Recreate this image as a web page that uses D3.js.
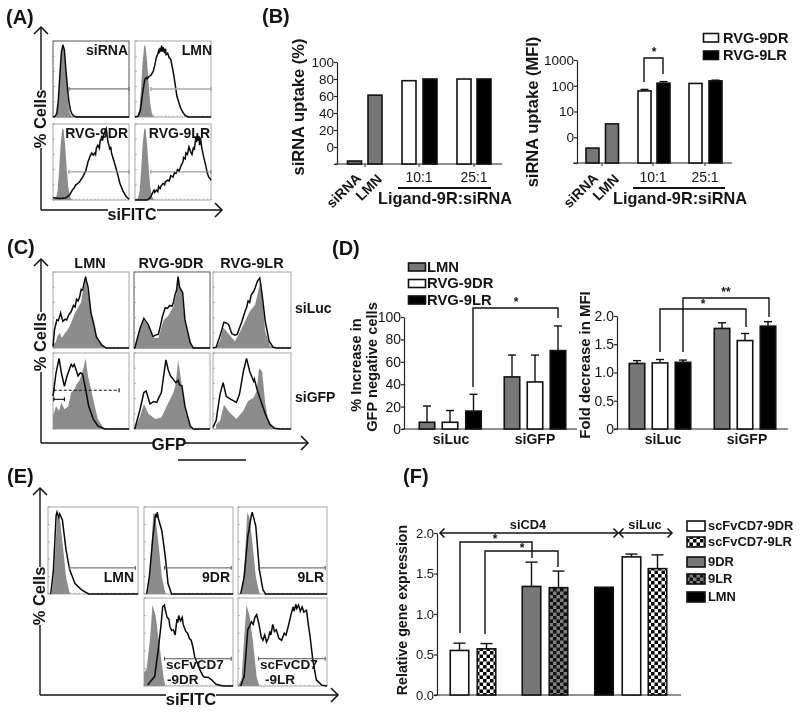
<!DOCTYPE html>
<html><head><meta charset="utf-8">
<script src="https://cdn.jsdelivr.net/npm/d3@7/dist/d3.min.js"></script>
<style>html,body{margin:0;padding:0;background:#fff}svg{display:block;filter:blur(0.4px)}text{font-family:"Liberation Sans",Arial,sans-serif;fill:#141414}</style>
</head><body><svg id="c" width="800" height="712"></svg>
<script>
// ---------- DATA: flow histograms, [channel %, cell count %] ----------
const grayA=[[0,0],[2,1],[4,3],[6,12],[8,38],[10,72],[12,92],[13,95],[14,92],[16,72],[18,42],[20,18],[22,6],[24,1],[26,0],[100,0]];
const lineA1=[[0,0],[3,1],[5,5],[7,22],[9,55],[11,85],[13,95],[15,88],[17,62],[19,38],[21,20],[23,9],[25,4],[28,1],[32,0],[100,0]];
const lineA2=[[0,0],[4,1],[7,8],[10,31],[13,50],[15,52],[16,50],[18,53],[21,55],[24,60],[26,68],[28,78],[30,83],[31,87],[32,84],[33,91],[34,86],[35,94],[36,86],[37,92],[39,84],[40,90],[41,82],[43,84],[45,78],[47,76],[49,66],[51,55],[53,42],[55,28],[58,18],[60,12],[63,6],[66,2],[70,0],[100,0]];
const lineA3=[[0,3],[10,2],[17,3],[22,7],[26,14],[28,16],[30,20],[33,22],[35,24],[39,30],[43,38],[46,50],[49,58],[51,62],[53,59],[55,62],[56,60],[57,68],[59,72],[61,68],[62,78],[64,82],[65,78],[67,86],[69,92],[70,94],[71,86],[72,78],[73,74],[75,66],[76,70],[77,62],[79,55],[82,45],[85,34],[88,22],[92,12],[96,5],[100,1]];
const lineA4=[[0,0],[16,0],[20,3],[23,9],[25,13],[26,10],[28,13],[30,11],[31,18],[33,15],[34,18],[37,22],[39,20],[40,24],[43,26],[45,25],[47,32],[50,30],[52,36],[54,35],[56,40],[58,38],[61,46],[63,50],[64,56],[66,54],[67,62],[69,60],[71,70],[73,64],[75,60],[77,70],[78,66],[80,82],[81,76],[82,88],[83,78],[84,84],[85,72],[86,82],[88,68],[90,58],[93,46],[95,36],[97,30],[99,28],[100,26]];
const grayC1=[[0,11],[2,6],[4,9],[6,16],[9,20],[11,14],[13,15],[16,20],[18,22],[22,29],[25,36],[28,44],[31,50],[35,57],[37,60],[39,73],[41,80],[43,90],[46,73],[50,46],[55,24],[59,11],[66,2],[70,0],[100,0]];
const lineC1=[[0,2],[2,24],[5,37],[7,36],[9,42],[10,46],[13,35],[16,38],[18,37],[21,44],[24,48],[27,56],[29,54],[31,64],[33,62],[35,67],[37,77],[39,76],[41,86],[43,94],[44,88],[46,81],[50,46],[54,30],[57,15],[64,4],[70,0],[100,0]];
const grayC2=[[0,0],[1,0],[8,24],[13,37],[19,28],[25,13],[32,13],[39,37],[45,42],[52,55],[56,72],[58,90],[60,80],[63,73],[67,33],[74,7],[78,0],[100,0]];
const lineC2=[[0,0],[1,0],[8,26],[13,39],[19,30],[25,15],[28,17],[32,18],[35,30],[37,40],[41,53],[44,52],[47,56],[50,55],[52,60],[54,70],[56,76],[58,94],[60,80],[64,73],[67,37],[74,7],[78,0],[100,0]];
const grayC3=[[0,0],[4,0],[9,10],[13,27],[19,20],[28,9],[34,20],[41,35],[47,48],[54,57],[57,70],[60,85],[63,66],[67,22],[73,3],[77,0],[100,0]];
const lineC3=[[0,0],[4,1],[9,16],[14,34],[17,33],[20,31],[24,19],[28,17],[31,18],[37,35],[41,48],[43,53],[45,62],[47,60],[49,70],[52,74],[54,79],[57,88],[60,92],[63,70],[67,35],[72,9],[77,1],[82,0],[100,0]];
const grayC4=[[0,17],[4,30],[8,24],[11,35],[15,26],[20,30],[24,48],[28,52],[31,59],[35,64],[37,70],[40,80],[43,93],[46,70],[51,48],[55,30],[59,13],[66,2],[70,0],[100,0]];
const lineC4=[[0,43],[4,74],[8,93],[11,74],[15,56],[18,68],[20,74],[22,80],[24,85],[26,82],[28,85],[31,76],[33,70],[36,74],[39,72],[43,52],[47,30],[53,13],[59,4],[68,0],[100,0]];
const grayC5=[[1,0],[8,17],[13,33],[19,20],[28,13],[36,15],[43,30],[52,48],[55,60],[58,91],[63,57],[67,30],[74,4],[78,0],[100,0]];
const lineC5=[[1,0],[8,26],[13,48],[16,50],[21,33],[26,36],[30,35],[33,42],[36,48],[39,70],[42,91],[45,78],[48,70],[52,65],[55,61],[58,64],[60,58],[63,57],[67,30],[74,4],[78,0],[100,0]];
const grayC6=[[4,6],[9,11],[14,32],[21,22],[30,13],[39,24],[45,37],[52,41],[56,50],[59,80],[63,76],[67,33],[71,11],[77,2],[82,0],[100,0]];
const lineC6=[[0,2],[4,11],[9,46],[13,61],[17,43],[20,41],[23,39],[30,35],[34,46],[39,76],[43,93],[47,76],[50,68],[52,63],[53,66],[56,54],[60,41],[67,20],[73,6],[79,1],[86,0],[100,0]];
const grayE=[[4,0],[7,30],[9,66],[10.5,94],[13,88],[17,51],[20,20],[24,1],[25,0],[100,0]];
const lineE1=[[3,0],[6,27],[9,90],[10,94],[12,88],[13,92],[16,85],[20,51],[24,28],[30,12],[37,5],[45,0],[100,0]];
const lineE2=[[3,0],[6,20],[10,66],[13,92],[14,88],[15,94],[16,87],[20,73],[24,42],[27,12],[31,0],[100,0]];
const lineE3=[[3,0],[7,20],[11,66],[15,90],[16,94],[18,86],[20,78],[24,28],[28,5],[31,0],[100,0]];
const grayE4=[[0,15],[3,20],[7,56],[9.5,92],[13,80],[17,49],[22,10],[24,0],[100,0]];
const lineE4=[[4,1],[12,11],[16,41],[19,68],[21,90],[23,92],[24,86],[26,78],[28,76],[29,68],[31,63],[33,64],[35,58],[37,76],[38,72],[39,80],[41,74],[43,78],[44,70],[47,62],[49,60],[51,54],[53,52],[55,44],[57,33],[60,26],[63,18],[66,12],[68,10],[72,10],[76,7],[81,2],[89,0],[100,0]];
const grayE5=[[0,0],[4,8],[7,56],[9.5,92],[13,80],[17,49],[21,10],[24,0],[100,0]];
const lineE5=[[3,0],[7,11],[11,64],[13,68],[15,73],[17,70],[19,78],[21,81],[24,68],[26,56],[28,52],[30,58],[32,50],[34,54],[36,62],[37,58],[39,70],[41,62],[43,64],[46,54],[49,52],[52,60],[54,58],[57,70],[60,83],[62,90],[63,85],[65,93],[66,88],[68,92],[70,85],[72,90],[74,84],[77,86],[79,70],[81,56],[84,30],[88,7],[94,1],[100,0]];
// gate bars: start, end, height
const gateA=[21,100,37], gateE=[23,98,30], gateE1=[24,97,30], gateEb=[23,98,31];
const gateDash=[1,87,51], gateShort=[1,15,39];
// ---------- DATA: bar charts ----------
const catsB=["siRNA","LMN","10:1 DR","10:1 LR","25:1 DR","25:1 LR"];
const valsB1=[-16.5,61,78,80,80,80];
const valsB2=[0.38,3.3,63,126,123,155];
const errsB2=[0.38,3.3,72,145,123,165];
const ticksB1=[-20,0,20,40,60,80,100];
const ticksB2=[0.1,1,10,100,1000];
const labelsB2=["","0","10","100","1000"];
const catsD=["L LMN","L DR","L LR","G LMN","G DR","G LR"];
const valsD1=[6,6,16,46.5,42,70];
const errsD1=[20.5,16.5,31,66,66,92];
const valsD2=[1.16,1.17,1.18,1.78,1.565,1.82];
const errsD2=[1.21,1.23,1.22,1.88,1.69,1.90];
const ticksD1=[0,20,40,60,80,100];
const ticksD2=[0,0.5,1,1.5,2];
const labelsD2=["0","0.5","1.0","1.5","2.0"];
const catsF=["scFvCD7-9DR","scFvCD7-9LR","9DR","9LR","LMN","siLuc 9DR","siLuc 9LR"];
const valsF=[0.55,0.57,1.34,1.325,1.33,1.705,1.56];
const errsF=[0.64,0.635,1.64,1.53,1.33,1.74,1.73];
const ticksF=[0,0.5,1,1.5,2];
const legendB=["RVG-9DR","RVG-9LR"];
const legendD=["LMN","RVG-9DR","RVG-9LR"];
const legendF=["scFvCD7-9DR","scFvCD7-9LR","9DR","9LR","LMN"];

// ---------- helpers ----------
const svg=d3.select("#c");
const GR="#777777",HG="#8c8c8c",INK="#111";
const defs=svg.append("defs");
function checker(id,a,b){const p=defs.append("pattern").attr("id",id).attr("width",7).attr("height",7).attr("patternUnits","userSpaceOnUse");
 p.append("rect").attr("width",7).attr("height",7).attr("fill",a);
 p.append("rect").attr("width",3.5).attr("height",3.5).attr("fill",b);
 p.append("rect").attr("x",3.5).attr("y",3.5).attr("width",3.5).attr("height",3.5).attr("fill",b);}
checker("chkW","#fff","#000");checker("chkD","#808080","#111");
const W="#fff",K="#000",CW="url(#chkW)",CD="url(#chkD)";
function txt(x,y,s,o={}){const t=svg.append("text").attr("x",x).attr("y",y).text(s)
 .attr("font-size",o.size||14).attr("font-weight",o.weight||"bold").attr("text-anchor",o.anchor||"start");
 if(o.rot!=null)t.attr("transform",`rotate(${o.rot} ${x} ${y})`);if(o.fill)t.style("fill",o.fill);return t;}
function poly(pts,w=1.4,c=INK,dash){svg.append("path").attr("d",d3.line()(pts)).attr("fill","none").attr("stroke",c).attr("stroke-width",w).attr("stroke-dasharray",dash||null);}
function arrowHead(x,y,dir,s=7){const d={u:[[-1,1],[0,0],[1,1]],r:[[-1,-1],[0,0],[-1,1]],l:[[1,-1],[0,0],[1,1]]}[dir];
 poly(d.map(p=>[x+p[0]*s,y+p[1]*s]),1.5,INK);}
function panel(x,y,w,h,gray,line,gates,dark){
 const X=d3.scaleLinear([0,100],[x,x+w]),Y=d3.scaleLinear([0,100],[y+h,y]);
 const g=svg.append("g");
 g.append("rect").attr("x",x).attr("y",y).attr("width",w).attr("height",h).attr("fill","#fff").attr("stroke",dark?"#555":"#a8a8a8").attr("stroke-width",1);
 g.append("path").attr("d",d3.area().x(d=>X(d[0])).y0(Y(0)).y1(d=>Y(d[1]))(gray)).attr("fill",HG);
 const tk=X.ticks(20);
 g.selectAll("line.b").data(tk).join("line").attr("x1",X).attr("x2",X).attr("y1",y+h).attr("y2",y+h-1.5).attr("stroke","#999").attr("stroke-width",.6);
 g.selectAll("line.l").data(Y.ticks(4)).join("line").attr("y1",Y).attr("y2",Y).attr("x1",x).attr("x2",x+2).attr("stroke","#888").attr("stroke-width",.6);
 (gates||[]).forEach(gt=>{const yy=Y(gt.v[2]);const c=gt.c||"#888",sw=gt.w||1;
  poly([[X(gt.v[0]),yy],[X(gt.v[1]),yy]],sw,c,gt.dash);
  [gt.v[0],gt.v[1]].forEach(v=>poly([[X(v),yy-2],[X(v),yy+2]],sw,c));});
 g.append("path").attr("d",d3.line().x(d=>X(d[0])).y(d=>Y(d[1]))(line)).attr("fill","none").attr("stroke","#0a0a0a").attr("stroke-width",1.5);
}
function yAxis(x,scale,ticks,labels,size){
 const a=d3.axisLeft(scale).tickValues(ticks).tickSize(3).tickSizeOuter(0).tickFormat((d,i)=>labels?labels[i]:d);
 const g=svg.append("g").attr("transform",`translate(${x},0)`).call(a);
 g.selectAll("path,line").attr("stroke","#222").attr("stroke-width",1.2);
 g.selectAll("text").attr("font-size",size).attr("font-family",'"Liberation Sans"').attr("fill","#333").attr("x",-3);
 return g;}
function baseLine(x1,x2,y,ticks){poly([[x1,y],[x2,y]],1.2,"#222");(ticks||[]).forEach(t=>poly([[t,y],[t,y+3]],1,"#222"));}
function bars(cats,vals,errs,fills,x,y,bw,base,capW){
 const g=svg.append("g");
 const items=cats.map((c,i)=>({c,v:vals[i],e:errs?errs[i]:vals[i],f:fills[i]}));
 g.selectAll("line.e").data(items).join("line").attr("x1",d=>x(d.c)).attr("x2",d=>x(d.c)).attr("y1",d=>y(d.v)).attr("y2",d=>y(d.e)).attr("stroke",INK).attr("stroke-width",1.4);
 g.selectAll("line.c").data(items.filter(d=>d.e!==d.v)).join("line").attr("x1",d=>x(d.c)-capW).attr("x2",d=>x(d.c)+capW).attr("y1",d=>y(d.e)).attr("y2",d=>y(d.e)).attr("stroke",INK).attr("stroke-width",1.4);
 g.selectAll("rect").data(items).join("rect").attr("x",d=>x(d.c)-bw/2).attr("width",bw).attr("y",d=>y(d.v)).attr("height",d=>base-y(d.v)).attr("fill",d=>d.f).attr("stroke",INK).attr("stroke-width",1.6);
}
function legend(names,fills,x,w,h,ys,size,tx,base){
 names.forEach((n,i)=>{svg.append("rect").attr("x",x).attr("y",ys[i]).attr("width",w).attr("height",h).attr("fill",fills[i]).attr("stroke",INK).attr("stroke-width",1.6);
  txt(tx,ys[i]+base,n,{size});});}
function star(x,y,s){txt(x,y+4,s,{size:12,anchor:"middle",weight:"bold"});}
function cellsAxis(x,top,gapT,gapB,bot,right,gapL,gapR,labelX,labelY,xLabel,xLabelX,xLabelY,xSize){
 poly([[x,bot],[x,gapB]]);poly([[x,gapT],[x,top]]);arrowHead(x,top,"u");
 poly([[x,bot],[gapL,bot]]);poly([[gapR,bot],[right,bot]]);arrowHead(right,bot,"r");
 txt(labelX,labelY,"% Cells",{size:16.5,anchor:"middle",rot:-90});
 txt(xLabelX,xLabelY,xLabel,{size:xSize||16,anchor:"middle"});}

// ---------- (A) ----------
txt(6,24,"(A)",{size:20});
cellsAxis(41,27,90,148,210,222,108,157,46,119,"siFITC",132,220);
const aX=[53,135],aY=[41,124];
panel(aX[0],aY[0],76,76,grayA,lineA1,[{v:gateA,c:"#777",w:1.3}],true);
panel(aX[1],aY[0],76,76,grayA,lineA2,[{v:gateA,c:"#aaa",w:1.5}]);
panel(aX[0],aY[1],76,76,grayA,lineA3,[{v:gateA}]);
panel(aX[1],aY[1],76,76,grayA,lineA4,[{v:gateA}]);
txt(128,55,"siRNA",{anchor:"end"});txt(212,55,"LMN",{anchor:"end"});
txt(128,138,"RVG-9DR",{anchor:"end"});txt(210,138,"RVG-9LR",{anchor:"end"});

// ---------- (B) left ----------
txt(262,23,"(B)",{size:20});
const yB1=d3.scaleLinear([-20,100],[164,62]);
const xB1=d3.scaleOrdinal(catsB,[354.5,375,409,430,464,484]);
yAxis(337,yB1,ticksB1,ticksB1.map(d=>d<0?"":d),13.5);
baseLine(335,502,164,[365,419,474]);
bars(catsB,valsB1,null,[GR,GR,W,K,W,K],xB1,yB1,14,164,3);
txt(304,107,"siRNA uptake (%)",{size:16.5,anchor:"middle",rot:-90});
txt(362,179,"siRNA",{anchor:"end",rot:-45});txt(383,180,"LMN",{anchor:"end",rot:-45});
txt(419,182,"10:1",{weight:"normal",anchor:"middle"});txt(474,182,"25:1",{weight:"normal",anchor:"middle"});
poly([[398,188],[491,188]],2,"#111");
txt(445,204,"Ligand-9R:siRNA",{size:16.3,anchor:"middle"});

// ---------- (B) right ----------
const yB2=d3.scaleLog([0.1,1000],[163,60]);
const xB2=d3.scaleOrdinal(catsB,[592.5,612,644.5,663.5,695.5,715.5]);
yAxis(577,yB2,ticksB2,labelsB2,13.5);
baseLine(573,732,163,[602,653,705]);
bars(catsB,valsB2,errsB2,[GR,GR,W,K,W,K],xB2,yB2,13,163,4);
txt(538,112,"siRNA uptake (MFI)",{size:16.5,anchor:"middle",rot:-90});
txt(599,179,"siRNA",{anchor:"end",rot:-45});txt(620,180,"LMN",{anchor:"end",rot:-45});
txt(653,182,"10:1",{weight:"normal",anchor:"middle"});txt(705,182,"25:1",{weight:"normal",anchor:"middle"});
poly([[633,188],[725,188]],2,"#111");
txt(680,204,"Ligand-9R:siRNA",{size:16.3,anchor:"middle"});
poly([[644,82],[644,58],[663,58],[663,74]]);star(654,52,"*");
legend(legendB,[W,K],703.5,15,8.5,[33.5,51],14.6,723,9);

// ---------- (C) ----------
txt(7,254,"(C)",{size:20});
cellsAxis(41,259,312,372,443,308,153,185,46,342,"GFP",169,450,17);
poly([[178,460],[246,460]],1.4,"#111");
const cX=[53,134,213],cY=[272,353];
const cW=[76,76,78];
panel(cX[0],cY[0],cW[0],76,grayC1,lineC1);
panel(cX[1],cY[0],cW[1],76,grayC2,lineC2,[],true);
panel(cX[2],cY[0],cW[2],76,grayC3,lineC3);
panel(cX[0],cY[1],cW[0],76,grayC4,lineC4,[{v:gateDash,c:"#111",w:1.1,dash:"3 2"},{v:gateShort,c:"#111",w:1.1}]);
panel(cX[1],cY[1],cW[1],76,grayC5,lineC5);
panel(cX[2],cY[1],cW[2],76,grayC6,lineC6);
txt(90,268,"LMN",{anchor:"middle",size:14.5});txt(171,268,"RVG-9DR",{anchor:"middle",size:14.5});txt(252,268,"RVG-9LR",{anchor:"middle",size:14.5});
txt(295,313,"siLuc",{size:14});txt(295,402,"siGFP",{size:14});

// ---------- (D) left ----------
txt(332,255,"(D)",{size:20});
const yD1=d3.scaleLinear([0,100],[429,317]);
const xD1=d3.scaleOrdinal(catsD,[427,450,473.5,512,535,558]);
yAxis(404,yD1,ticksD1,null,14);
baseLine(402,577,429);
bars(catsD,valsD1,errsD1,[GR,W,K,GR,W,K],xD1,yD1,15.5,429,4);
legend(legendD,[GR,W,K],408.5,17,8,[263,279.5,296],14.8,427,8.5);
txt(361,365,"% Increase in",{size:14.6,anchor:"middle",rot:-90});
txt(377,367,"GFP negative cells",{size:14.6,anchor:"middle",rot:-90});
txt(451,444,"siLuc",{anchor:"middle"});txt(535,444,"siGFP",{anchor:"middle"});
poly([[473,387],[473,308],[558,308],[558,318]]);star(516,302,"*");

// ---------- (D) right ----------
const yD2=d3.scaleLinear([0,2],[429,316]);
const xD2=d3.scaleOrdinal(catsD,[637,660,683,722,745,768]);
yAxis(617,yD2,ticksD2,labelsD2,14);
baseLine(614,788,429);
bars(catsD,valsD2,errsD2,[GR,W,K,GR,W,K],xD2,yD2,15.5,429,4);
txt(590,365,"Fold decrease in MFI",{size:14.9,anchor:"middle",rot:-90});
txt(663,444,"siLuc",{anchor:"middle"});txt(747,444,"siGFP",{anchor:"middle"});
poly([[660,352],[660,309],[746,309],[746,327]]);star(703,304,"*");
poly([[683,352],[683,298],[769,298],[769,317]]);star(726,292,"**");

// ---------- (E) ----------
txt(7,483,"(E)",{size:20});
cellsAxis(40,488,567,625,695,338,166,216,45,596,"siFITC",191,705,16.5);
const eX=[48,144,238],eY=[507,598],eW=[90,89,89];
panel(eX[0],eY[0],eW[0],87,grayE,lineE1,[{v:gateE1,c:"#555"}]);
panel(eX[1],eY[0],eW[1],87,grayE,lineE2,[{v:gateE,c:"#555"}]);
panel(eX[2],eY[0],eW[2],87,grayE,lineE3,[{v:gateE,c:"#555"}]);
panel(eX[1],eY[1],eW[1],88,grayE4,lineE4,[{v:gateEb,c:"#555"}]);
panel(eX[2],eY[1],eW[2],88,grayE5,lineE5,[{v:gateEb,c:"#555"}]);
txt(134,582,"LMN",{anchor:"end"});txt(230,582,"9DR",{anchor:"end"});txt(324,582,"9LR",{anchor:"end"});
txt(166,669,"scFvCD7",{size:13.5});txt(167,684,"-9DR",{size:13.5});
txt(260,669,"scFvCD7",{size:13.5});txt(265,684,"-9LR",{size:13.5});

// ---------- (F) ----------
txt(403,483,"(F)",{size:20});
const yF=d3.scaleLinear([0,2],[695,533]);
const xF=d3.scaleOrdinal(catsF,[459.5,486.5,531.5,558.5,604,631.5,657.5]);
yAxis(437,yF,ticksF,ticksF.map(d=>d.toFixed(1)),13);
baseLine(434,681,695);
bars(catsF,valsF,errsF,[W,CW,GR,CD,K,W,CW],xF,yF,18.5,695,6);
txt(407,610,"Relative gene expression",{size:14.2,anchor:"middle",rot:-90});
poly([[460,633],[460,542],[532,542],[532,558]]);star(495,539,"*");
poly([[485,634],[485,551],[558,551],[558,567]]);star(522,548,"*");
poly([[440,533],[618,533]]);arrowHead(440,533,"l",4.5);arrowHead(618,533,"r",4.5);
poly([[619,533],[672,533]]);arrowHead(619,533,"l",4.5);arrowHead(672,533,"r",4.5);
txt(528,529,"siCD4",{size:12.8,anchor:"middle"});txt(645,529,"siLuc",{size:12.8,anchor:"middle"});
legendF.forEach((n,i)=>{const ys=[521,537,557,574,592],f=[W,CW,GR,CD,K][i];
 svg.append("rect").attr("x",687).attr("y",ys[i]).attr("width",18).attr("height",10).attr("fill",f).attr("stroke",INK).attr("stroke-width",1.6);
 txt(708,ys[i]+9,n,{size:12.9});});
</script></body></html>
